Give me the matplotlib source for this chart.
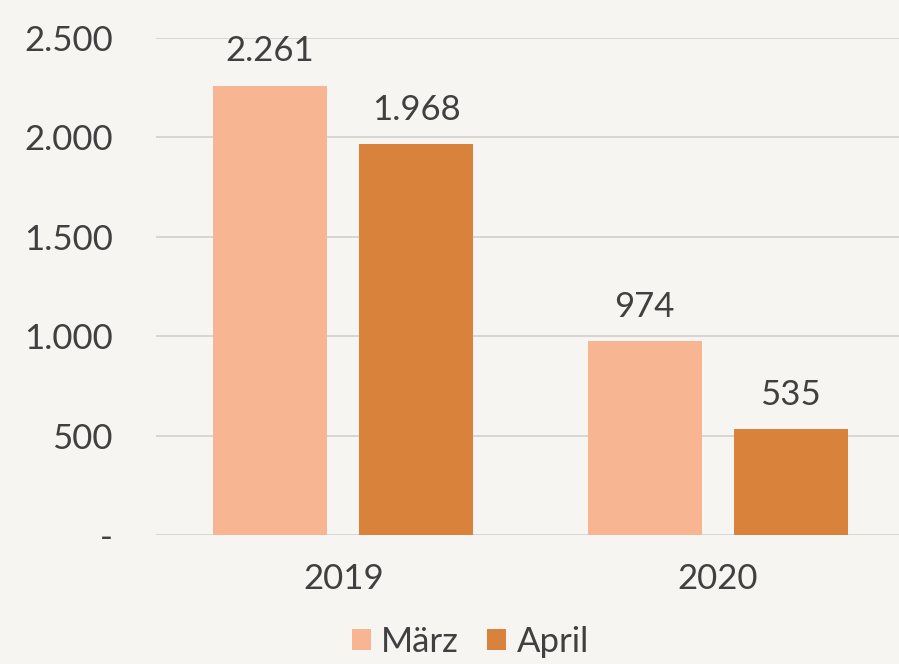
import matplotlib
matplotlib.use("Agg")
import matplotlib.pyplot as plt
import numpy as np

# data
years = ["2019", "2020"]
maerz = [2261, 974]
april = [1968, 535]
series_names = ["März", "April"]
y_ticks = [0, 500, 1000, 1500, 2000, 2500]

bg = "#f7f5f1"
col_maerz = "#f8b592"
col_april = "#d9823c"
text_col = "#404040"

plt.rcParams["font.family"] = ["Lato", "DejaVu Sans"]

fig = plt.figure(figsize=(8.99, 6.64), dpi=100, facecolor=bg)
# axes extends slightly beyond the right figure edge, like the source
ax = fig.add_axes([156 / 899, (664 - 535) / 664, (905 - 156) / 899, 497 / 664])
ax.set_facecolor(bg)

x = np.arange(len(years))
w = 0.304
off = 0.195
b1 = ax.bar(x - off, maerz, w, color=col_maerz, label=series_names[0], zorder=3)
b2 = ax.bar(x + off, april, w, color=col_april, label=series_names[1], zorder=3)


def fmt(v):
    return "-" if v == 0 else f"{v:,}".replace(",", ".")


for bars, vals in [(b1, maerz), (b2, april)]:
    for rect, v in zip(bars, vals):
        ax.annotate(fmt(v), (rect.get_x() + rect.get_width() / 2, v),
                    xytext=(0, 13), textcoords="offset points",
                    ha="center", va="bottom", fontsize=25, color=text_col)

ax.set_xlim(-0.5, 1.5)
ax.set_ylim(0, 2500)
ax.set_yticks(y_ticks)
ax.set_yticklabels([fmt(v) for v in y_ticks])
ax.set_xticks(x)
ax.set_xticklabels(years)
ax.tick_params(axis="y", length=0, pad=31, labelsize=25, labelcolor=text_col)
ax.tick_params(axis="x", length=0, pad=20, labelsize=25, labelcolor=text_col)
ax.grid(axis="y", color="#d6d6d6", linewidth=1.4, zorder=0)
for s in ax.spines.values():
    s.set_visible(False)

fig.legend(loc="lower center", bbox_to_anchor=(0.523, -0.038), ncol=2,
           frameon=False, fontsize=25, handlelength=0.55, handleheight=0.55,
           handletextpad=0.3, columnspacing=0.8, labelcolor=text_col)

fig.savefig("out.png", dpi=100, facecolor=bg)
